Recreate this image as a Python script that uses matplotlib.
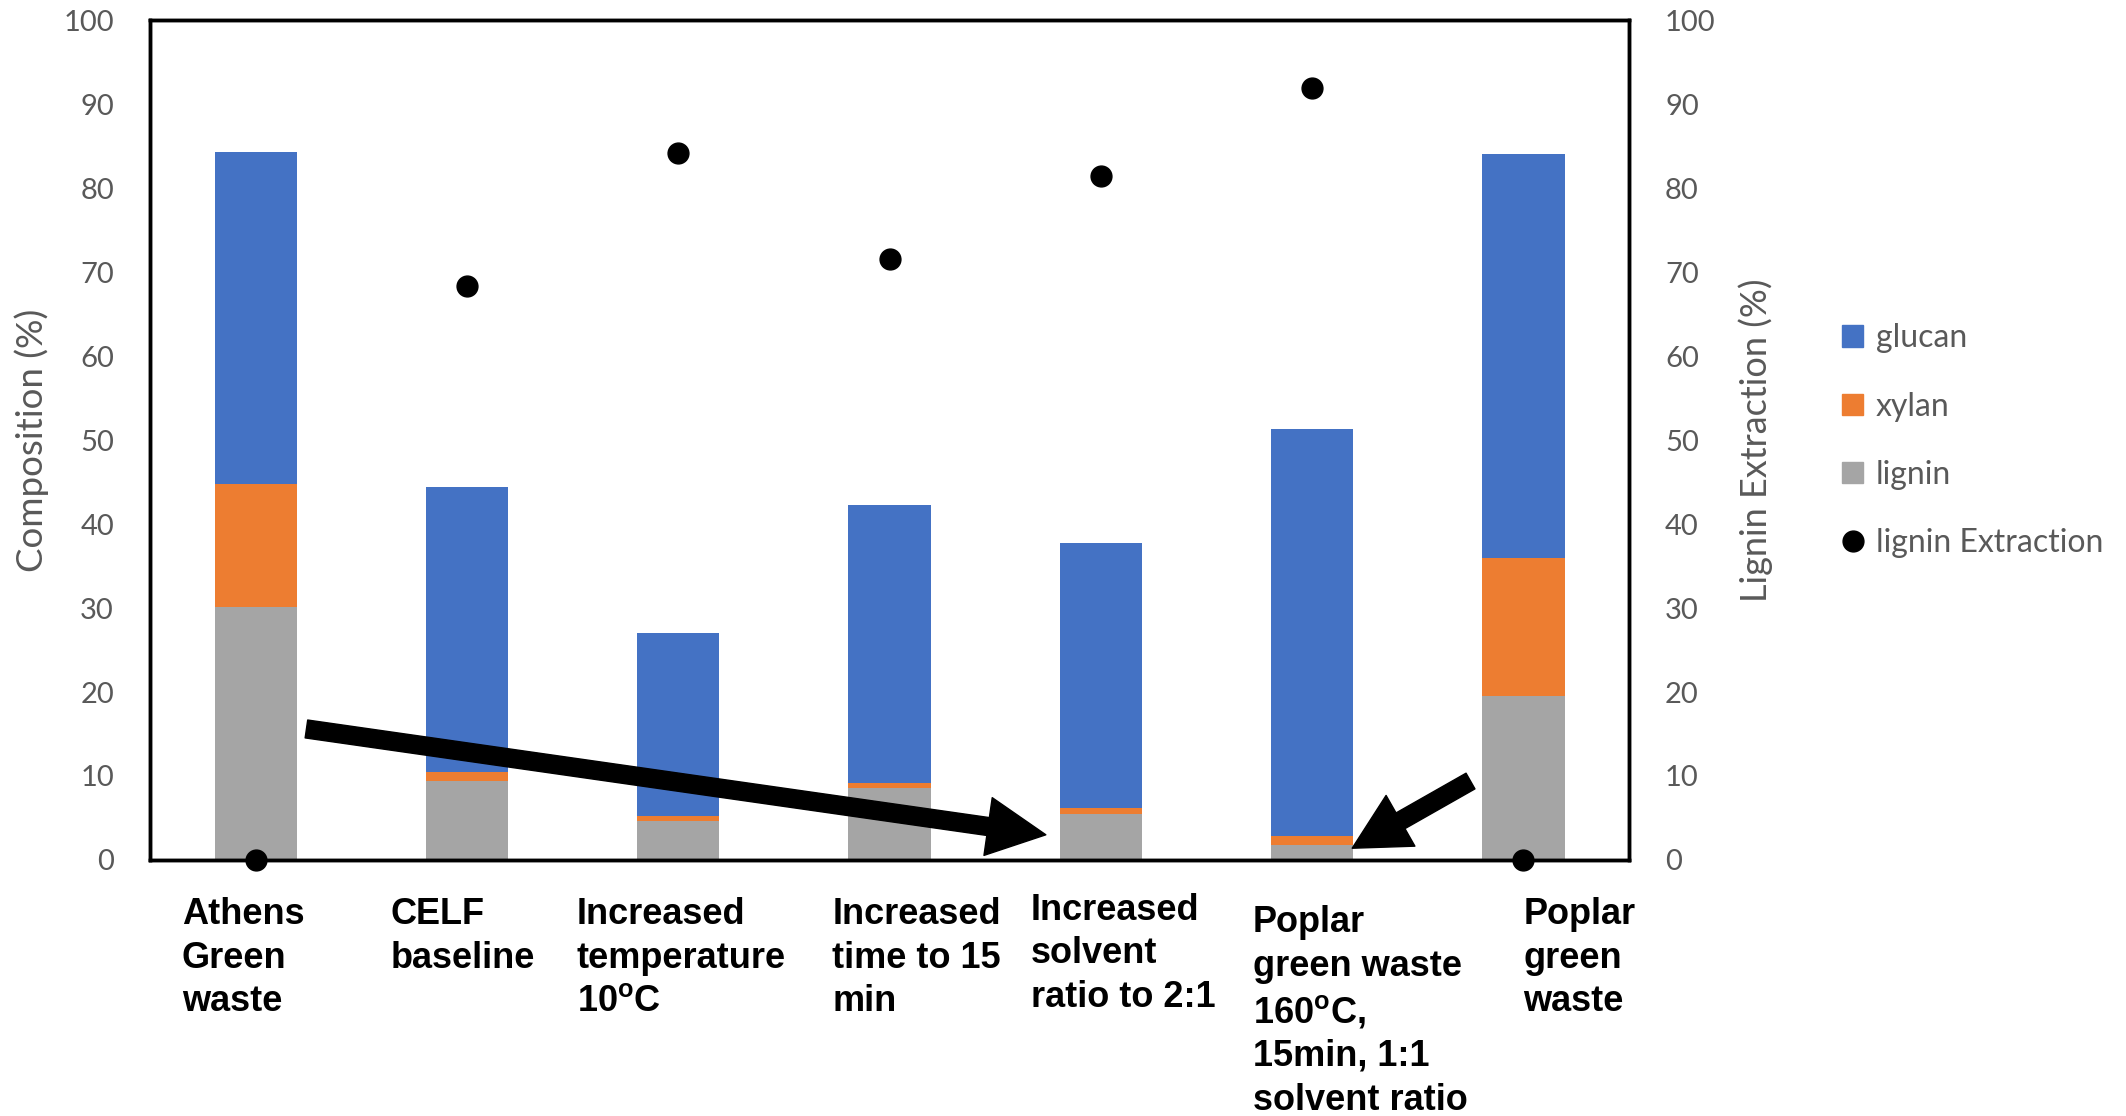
import numpy as np
import matplotlib
matplotlib.use("Agg")
import matplotlib.pyplot as plt
from matplotlib.patches import Patch
from matplotlib.lines import Line2D

# data
categories = ["Athens\nGreen\nwaste",
              "CELF\nbaseline",
              "Increased\ntemperature\n10$^{\\mathbf{o}}$C",
              "Increased\ntime to 15\nmin",
              "Increased\nsolvent\nratio to 2:1",
              "Poplar\ngreen waste\n160$^{\\mathbf{o}}$C,\n15min, 1:1\nsolvent ratio",
              "Poplar\ngreen\nwaste"]
lignin = [30.1, 9.4, 4.7, 8.6, 5.5, 1.8, 19.5]
xylan = [14.7, 1.1, 0.5, 0.6, 0.7, 1.1, 16.5]
glucan = [39.5, 33.9, 21.8, 33.1, 31.6, 48.4, 48.0]
extraction = [0, 68.3, 84.2, 71.6, 81.4, 91.9, 0]

# label placement (layout only)
label_dx = [-0.35, -0.36, -0.48, -0.27, -0.33, -0.28, 0.0]
label_dy = [0, 0, 0, 0, 0.005, -0.01, 0]

c_glucan = "#4472C4"
c_xylan = "#ED7D31"
c_lignin = "#A5A5A5"
c_text = "#595959"

plt.rcParams["font.family"] = ["Lato", "DejaVu Sans"]
plt.rcParams["mathtext.fontset"] = "custom"
plt.rcParams["mathtext.bf"] = "Liberation Sans:bold"
plt.rcParams["mathtext.rm"] = "Liberation Sans:bold"

fig = plt.figure(figsize=(21.26, 11.16), dpi=100)
ax = fig.add_axes([0.0706, 0.2294, 0.6956, 0.7526])
ax2 = ax.twinx()

x = np.arange(len(categories))
w = 0.39
ax.bar(x, lignin, w, color=c_lignin, zorder=2)
ax.bar(x, xylan, w, bottom=lignin, color=c_xylan, zorder=2)
bottom2 = np.array(lignin) + np.array(xylan)
ax.bar(x, glucan, w, bottom=bottom2, color=c_glucan, zorder=2)

ax2.plot(x, extraction, "o", color="black", markersize=15, clip_on=False, zorder=5)

for a in (ax, ax2):
    a.set_ylim(0, 100)
    a.set_yticks(np.arange(0, 101, 10))
    a.tick_params(axis="y", length=0, labelsize=21, labelcolor=c_text, pad=26)
    for s in a.spines.values():
        s.set_linewidth(2.5)
        s.set_color("black")
ax.set_xlim(-0.5, 6.5)
ax.set_xticks([])

ax.set_ylabel("Composition (%)", fontsize=26.5, color=c_text, labelpad=10)
ax2.set_ylabel("Lignin Extraction (%)", fontsize=26, color=c_text, labelpad=16)

# category labels
tr = ax.get_xaxis_transform()
for i, lab in enumerate(categories):
    ax.text(i + label_dx[i], -0.044 + label_dy[i], lab, transform=tr,
            ha="left", va="top", fontsize=26, fontweight="bold",
            family="Liberation Sans", linespacing=1.32, color="black")

# arrows
ax.annotate("", xy=(3.74, 3.0), xytext=(0.24, 15.6),
            arrowprops=dict(facecolor="black", edgecolor="black", width=13,
                            headwidth=42, headlength=42, shrink=0),
            annotation_clip=False, zorder=6)
ax.annotate("", xy=(5.19, 1.4), xytext=(5.75, 9.4),
            arrowprops=dict(facecolor="black", edgecolor="black", width=13,
                            headwidth=42, headlength=40, shrink=0),
            annotation_clip=False, zorder=6)

handles = [Patch(color=c_glucan), Patch(color=c_xylan), Patch(color=c_lignin),
           Line2D([], [], marker="o", color="black", linestyle="none", markersize=15)]
fig.legend(handles, ["glucan", "xylan", "lignin", "lignin Extraction"],
           loc="center left", bbox_to_anchor=(0.859, 0.605), frameon=False,
           fontsize=23, labelcolor=c_text, handlelength=0.65, handleheight=0.65,
           handletextpad=0.4, labelspacing=1.2, borderpad=0)

fig.savefig("out.png", dpi=100)
